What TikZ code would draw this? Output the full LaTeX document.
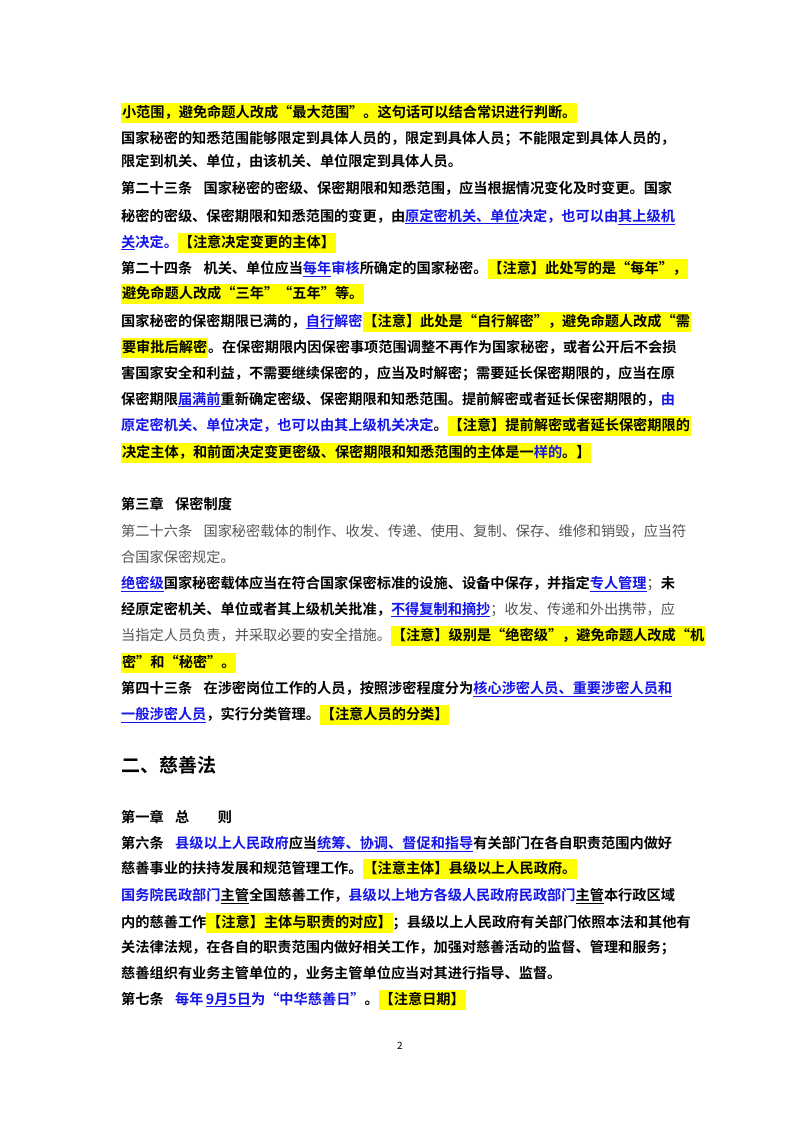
\documentclass[tikz,border=0pt]{standalone}
\usepackage{fontspec}
\setmainfont{Noto Sans CJK SC}[BoldFont={* Bold}]
\XeTeXlinebreaklocale "zh"
\XeTeXlinebreakskip=0pt plus 2pt minus 0.4pt
\definecolor{lnk}{RGB}{20,20,235}
\definecolor{grt}{RGB}{85,85,85}
\definecolor{hly}{RGB}{255,255,0}
\newcommand\Bl[1]{\textcolor{lnk}{#1}}
\newcommand\Ul[1]{\underline{#1}}
\newcommand\Gr[1]{{\mdseries\textcolor{grt}{#1}}}
\newcommand\HL[1]{{\setlength\fboxsep{0.8pt}\colorbox{hly}{\vrule width0pt height13pt depth5pt #1}}}
\newcommand\gap{\hspace{0.8em}}
\newcommand\Full[1]{\makebox[559pt][s]{#1}}
\tikzset{ln/.style={anchor=base west,inner sep=0,font=\fontsize{14.2}{17}\selectfont\bfseries}}
\begin{document}
\begin{tikzpicture}[x=1pt,y=-1pt]
\useasboundingbox[fill=white] (0,0) rectangle (800,1132);
\node[ln] (l1) at (121,117) {\HL{小范围，避免命题人改成“最大范围”。这句话可以结合常识进行判断。}};
\node[ln] (l2) at (121,143) {\Full{国家秘密的知悉范围能够限定到具体人员的，限定到具体人员；不能限定到具体人员的，}};
\node[ln] (l3) at (121,166) {限定到机关、单位，由该机关、单位限定到具体人员。};
\node[ln] (l4) at (121,193) {\Full{第二十三条\gap 国家秘密的密级、保密期限和知悉范围，应当根据情况变化及时变更。国家}};
\node[ln] (l5) at (121,221) {\Full{秘密的密级、保密期限和知悉范围的变更，由\Bl{\Ul{原定密机关、单位}决定，也可以由\Ul{其上级机}}}};
\node[ln] (l6) at (121,247) {\Bl{\Ul{关}决定。}\HL{【注意决定变更的主体】}};
\node[ln] (l7) at (121,273) {\Full{第二十四条\gap 机关、单位应当\Bl{\Ul{每年}审核}所确定的国家秘密。\HL{【注意】此处写的是“每年”，}}};
\node[ln] (l8) at (121,298) {\HL{避免命题人改成“三年”“五年”等。}};
\node[ln] (l9) at (121,326) {\Full{国家秘密的保密期限已满的，\Bl{\Ul{自行}解密}\HL{【注意】此处是“自行解密”，避免命题人改成“需}}};
\node[ln] (l10) at (121,352) {\Full{\HL{要审批后解密}。在保密期限内因保密事项范围调整不再作为国家秘密，或者公开后不会损}};
\node[ln] (l11) at (121,378) {\Full{害国家安全和利益，不需要继续保密的，应当及时解密；需要延长保密期限的，应当在原}};
\node[ln] (l12) at (121,404) {\Full{保密期限\Bl{\Ul{届满前}}重新确定密级、保密期限和知悉范围。提前解密或者延长保密期限的，\Bl{由}}};
\node[ln] (l13) at (121,430) {\Full{\Bl{原定密机关、单位决定，也可以由其上级机关决定}。\HL{【注意】提前解密或者延长保密期限的}}};
\node[ln] (l14) at (121,457) {\HL{决定主体，和前面决定变更密级、保密期限和知悉范围的主体是一\Bl{样的}。】}};
\node[ln] (l15) at (121,509) {第三章\gap 保密制度};
\node[ln] (l16) at (121,536) {\Full{\Gr{第二十六条\gap 国家秘密载体的制作、收发、传递、使用、复制、保存、维修和销毁，应当符}}};
\node[ln] (l17) at (121,562) {\Gr{合国家保密规定。}};
\node[ln] (l18) at (121,588) {\Full{\Bl{\Ul{绝密级}}国家秘密载体应当在符合国家保密标准的设施、设备中保存，并指定\Bl{\Ul{专人管理}}\Gr{；}未}};
\node[ln] (l19) at (121,614) {\Full{经原定密机关、单位或者其上级机关批准，\Bl{\Ul{不得复制和摘抄}}\Gr{；收发、传递和外出携带，应}}};
\node[ln] (l20) at (121,640) {\Full{\Gr{当指定人员负责，并采取必要的安全措施。}\HL{【注意】级别是“绝密级”，避免命题人改成“机}}};
\node[ln] (l21) at (121,667) {\HL{密”和“秘密”。}};
\node[ln] (l22) at (121,693) {\Full{第四十三条\gap 在涉密岗位工作的人员，按照涉密程度分为\Bl{\Ul{核心涉密人员、重要涉密人员和}}}};
\node[ln] (l23) at (121,719) {\Bl{\Ul{一般涉密人员}}，实行分类管理。\HL{【注意人员的分类】}};
\node[ln,font=\fontsize{19}{22}\selectfont\bfseries] (h2) at (121,772) {二、慈善法};
\node[ln] (l25) at (121,822) {第一章\gap 总\hspace{2em}则};
\node[ln] (l26) at (121,848) {\Full{第六条\gap \Bl{县级以上人民政府}应当\Bl{\Ul{统筹、协调、督促和指导}}有关部门在各自职责范围内做好}};
\node[ln] (l27) at (121,873) {慈善事业的扶持发展和规范管理工作。\HL{【注意主体】县级以上人民政府。}};
\node[ln] (l28) at (121,900) {\Full{\Bl{国务院民政部门}\Ul{主管}全国慈善工作，\Bl{县级以上地方各级人民政府民政部门}\Ul{主管}本行政区域}};
\node[ln] (l29) at (121,927) {\Full{内的慈善工作\HL{【注意】主体与职责的对应】}；县级以上人民政府有关部门依照本法和其他有}};
\node[ln] (l30) at (121,952) {\Full{关法律法规，在各自的职责范围内做好相关工作，加强对慈善活动的监督、管理和服务；}};
\node[ln] (l31) at (121,978) {慈善组织有业务主管单位的，业务主管单位应当对其进行指导、监督。};
\node[ln] (l32) at (121,1004) {第七条\gap \Bl{每年\,\Ul{9月5日}为“中华慈善日”}。\HL{【注意日期】}};
\node[anchor=base,inner sep=0,font=\fontsize{10}{12}\selectfont] (pg) at (400,1049) {2};
\end{tikzpicture}
\end{document}
